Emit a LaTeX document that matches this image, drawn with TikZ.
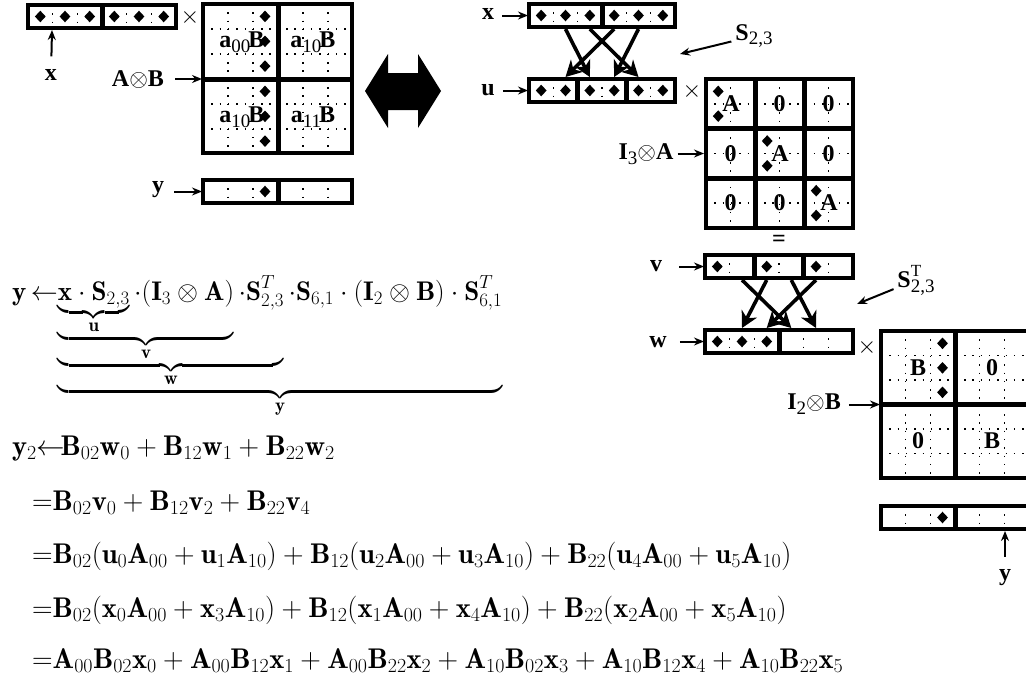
\RequirePackage{fix-cm}
\documentclass[tikz,border=0pt]{standalone}
\usepackage{amsmath}
\usepackage{fontspec}
\newfontfamily\tms{Liberation Serif}
\usetikzlibrary{arrows.meta}
\newcommand{\dmd}[2]{\fill (#1,#2) +(-5.4,0) -- +(0,-5.8) -- +(5.4,0) -- +(0,5.8) -- cycle;}
\newcommand{\lsub}[1]{\raisebox{-0.45ex}{\mdseries\fontsize{19}{20}\selectfont #1}}
\newcommand{\lsup}[1]{\raisebox{1.0ex}{\mdseries\fontsize{17}{18}\selectfont #1}}
\begin{document}
\begin{tikzpicture}[x=1pt,y=-1pt,
 lab/.style={font=\tms\bfseries\fontsize{24}{26}\selectfont, inner sep=0pt},
 tms/.style={font=\fontsize{24}{26}\selectfont, inner sep=0pt},
 dotl/.style={line width=1.5pt, dash pattern=on 1.5pt off 6.8pt},
 frame/.style={line width=3.5pt},
 divl/.style={line width=5pt},
 larr/.style={line width=2pt, -{Stealth[length=10pt,width=8pt]}},
 perm/.style={line width=3.6pt, -{Stealth[length=16pt,width=17pt,inset=5pt]}},
 eqn/.style={inner sep=0pt, anchor=base west}]
\fill[white] (0,0) rectangle (1026,675);
\useasboundingbox (0,0) rectangle (1026,675);

% ---------- top-left: x vector ----------
\foreach \x in {52.7,77.3,126.7,151.3} \draw[dotl] (\x,5) -- (\x,28);
\draw[frame] (28,5) rectangle (176,28);
\draw[divl] (102,5) -- (102,28);
\foreach \x in {40.3,65,89.7,114.3,139,163.7} {\dmd{\x}{16.5}}
\node[lab] (lx1) at (51,75) {x};
\coordinate (vx1) at (52,30);
\draw[larr, shorten <=13pt] (lx1) -- (vx1);
\node[tms] (t1) at (190,17) {$\times$};

% ---------- A (x) B ----------
\foreach \x in {228,253,303,328} \draw[dotl] (\x,4) -- (\x,153);
\foreach \y in {29,54,104,129} \draw[dotl] (203,\y) -- (352,\y);
\draw[frame] (203,4) rectangle (352,153);
\draw[divl] (278,4) -- (278,153) (203,79) -- (352,79);
\foreach \y in {16.4,41.3,66.1,91.4,116.3,141.1} {\dmd{265}{\y}}
\node[lab] (q00) at (242,42) {a\lsub{00}\kern-2pt B};
\node[lab] (q01) at (313,42) {a\lsub{10}\kern-2pt B};
\node[lab] (q10) at (242,117) {a\lsub{10}\kern-2pt B};
\node[lab] (q11) at (313,117) {a\lsub{11}\kern-2pt B};
\node[lab] (lAB) at (138,80) {A$\otimes$B};
\coordinate (mAB) at (202,79);
\draw[larr, shorten <=11pt] (lAB.east |- mAB) -- (mAB);

% ---------- y vector ----------
\foreach \x in {228,253,303,328} \draw[dotl] (\x,180) -- (\x,203);
\draw[frame] (203,180) rectangle (352,203);
\draw[divl] (278,180) -- (278,203);
\dmd{265}{191.5}
\node[lab] (ly1) at (158,190) {y};
\coordinate (vy1) at (202,191.5);
\draw[larr, shorten <=10pt] (ly1.east |- vy1) -- (vy1);

% ---------- double arrow ----------
\fill (365,91) -- (388,54) -- (388,73) -- (418,73) -- (418,54) -- (441,91)
  -- (418,128) -- (418,110) -- (388,110) -- (388,128) -- cycle;

% ---------- right: x and u ----------
\foreach \x in {553.3,577.7,626.3,650.7} \draw[dotl] (\x,4) -- (\x,27);
\draw[frame] (529,4) rectangle (675,27);
\draw[divl] (602,4) -- (602,27);
\foreach \x in {541.2,565.5,589.8,614.2,638.5,662.8} {\dmd{\x}{15.5}}
\node[lab] (lx2) at (488,14) {x};
\coordinate (vx2) at (528,15.5);
\draw[larr, shorten <=8pt] (lx2.east |- vx2) -- (vx2);

\foreach \x in {553.3,602,650.7} \draw[dotl] (\x,79) -- (\x,102);
\draw[frame] (529,79) rectangle (675,102);
\draw[divl] (577.7,79) -- (577.7,102) (626.3,79) -- (626.3,102);
\foreach \x in {541.2,565.5,589.8,614.2,638.5,662.8} {\dmd{\x}{90.5}}
\node[lab] (lu) at (488,90) {u};
\coordinate (vu) at (528,90.5);
\draw[larr, shorten <=8pt] (lu.east |- vu) -- (vu);
\node[tms] (t2) at (692,91) {$\times$};

\coordinate (xb1) at (565.5,29); \coordinate (xb2) at (589.8,29);
\coordinate (xb3) at (614.2,29); \coordinate (xb4) at (638.5,29);
\coordinate (ut1) at (565.5,77); \coordinate (ut2) at (589.8,77);
\coordinate (ut3) at (614.2,77); \coordinate (ut4) at (638.5,77);
\draw[perm] (xb1) -- (ut2);
\draw[perm] (xb3) -- (ut1);
\draw[perm] (xb2) -- (ut4);
\draw[perm] (xb4) -- (ut3);

\node[lab] (lS1) at (754,36) {S\lsub{2,3}};
\coordinate (pS1) at (680,54);
\draw[larr, shorten <=4pt] (lS1) -- (pS1);

% ---------- I3 (x) A ----------
\foreach \x in {730.5,779.5,828.5} \draw[dotl] (\x,79) -- (\x,228);
\foreach \y in {103.8,153.5,203.2} \draw[dotl] (706,\y) -- (853,\y);
\draw[frame] (706,79) rectangle (853,228);
\draw[divl] (755,79) -- (755,228) (804,79) -- (804,228) (706,128.7) -- (853,128.7) (706,178.3) -- (853,178.3);
\dmd{718.2}{91.4} \dmd{718.2}{116.1}
\dmd{767.2}{141} \dmd{767.2}{165.8}
\dmd{816.2}{190.7} \dmd{816.2}{215.5}
\node[lab] (A1) at (731,104) {A};
\node[lab] (A2) at (780,154) {A};
\node[lab] (A3) at (829,203) {A};
\node[lab] (z12) at (779.5,104) {0};
\node[lab] (z13) at (828.5,104) {0};
\node[lab] (z21) at (730.5,154) {0};
\node[lab] (z23) at (828.5,154) {0};
\node[lab] (z31) at (730.5,203) {0};
\node[lab] (z32) at (779.5,203) {0};
\node[lab] (lIA) at (646,154) {I\lsub{3}$\otimes$A};
\coordinate (mIA) at (704,153.5);
\draw[larr, shorten <=4pt] (lIA.east |- mIA) -- (mIA);
\node[lab] (eq) at (779,241) {=};

% ---------- v and w ----------
\foreach \x in {729.7,779,828.3} \draw[dotl] (\x,255) -- (\x,278);
\draw[frame] (705,255) rectangle (853,278);
\draw[divl] (754.3,255) -- (754.3,278) (803.7,255) -- (803.7,278);
\foreach \x in {717.3,766.7,816} {\dmd{\x}{266.5}}
\node[lab] (lv) at (656,266) {v};
\coordinate (vv) at (704,266.5);
\draw[larr, shorten <=17pt] (lv.east |- vv) -- (vv);

\foreach \x in {729.7,754.3,803.7,828.3} \draw[dotl] (\x,330) -- (\x,353);
\draw[frame] (705,330) rectangle (853,353);
\draw[divl] (779,330) -- (779,353);
\foreach \x in {717.3,742,766.7} {\dmd{\x}{341.5}}
\node[lab] (lw) at (658,342) {w};
\coordinate (vw) at (704,341.5);
\draw[larr, shorten <=13pt] (lw.east |- vw) -- (vw);
\node[tms] (t3) at (867,347) {$\times$};

\coordinate (vb1) at (742,280); \coordinate (vb2) at (766.7,280);
\coordinate (vb3) at (791.3,280); \coordinate (vb4) at (816,280);
\coordinate (wt1) at (742,328); \coordinate (wt2) at (766.7,328);
\coordinate (wt3) at (791.3,328); \coordinate (wt4) at (816,328);
\draw[perm] (vb1) -- (wt3);
\draw[perm] (vb2) -- (wt1);
\draw[perm] (vb3) -- (wt4);
\draw[perm] (vb4) -- (wt2);

\node[lab] (lS2) at (916,280) {S\rlap{\lsup{T}}\lsub{2,3}};
\coordinate (pS2) at (857,304);
\draw[larr, shorten <=4pt] (lS2) -- (pS2);

% ---------- I2 (x) B ----------
\foreach \x in {905.7,930.3,979.7,1004.3} \draw[dotl] (\x,331) -- (\x,478);
\foreach \y in {355.5,380,429,453.5} \draw[dotl] (881,\y) -- (1029,\y);
\draw[frame] (881,331) rectangle (1029,478);
\draw[divl] (955,331) -- (955,478) (881,404.5) -- (1029,404.5);
\dmd{942.5}{343.3} \dmd{942.5}{367.8} \dmd{942.5}{392.3}
\node[lab] (B1) at (918,368) {B};
\node[lab] (z2a) at (992,368) {0};
\node[lab] (z2b) at (918,441) {0};
\node[lab] (B2) at (992,441) {B};
\node[lab] (lIB) at (814,404) {I\lsub{2}$\otimes$B};
\coordinate (mIB) at (880,404.5);
\draw[larr, shorten <=8pt] (lIB.east |- mIB) -- (mIB);

% ---------- final y vector ----------
\foreach \x in {905.7,930.3,979.7,1004.3} \draw[dotl] (\x,506) -- (\x,529);
\draw[frame] (881,506) rectangle (1029,529);
\draw[divl] (955,506) -- (955,529);
\dmd{942.5}{517.5}
\node[lab] (ly2) at (1005,578) {y};
\coordinate (vy2) at (1005,531);
\draw[larr, shorten <=13pt] (ly2) -- (vy2);

% ---------- equations ----------
\node[eqn, font=\fontsize{27}{30}\selectfont] (e0) at (12,300)
 {$\mathbf{y}\,{\leftarrow}\!\underbrace{\underbrace{\underbrace{\underbrace{\mathbf{x}\cdot\mathbf{S}_{2,3}}_{\mathbf{u}}\cdot(\mathbf{I}_3\otimes\mathbf{A})}_{\mathbf{v}}\cdot\mathbf{S}_{2,3}^{T}}_{\mathbf{w}}\cdot\mathbf{S}_{6,1}\cdot(\mathbf{I}_2\otimes\mathbf{B})\cdot\mathbf{S}_{6,1}^{T}}_{\mathbf{y}}$};
\begin{scope}[every node/.style={eqn, font=\fontsize{28.5}{32}\selectfont}]
\node (e1) at (12,455) {$\mathbf{y}_2{\leftarrow}\!\mathbf{B}_{02}\mathbf{w}_0+\mathbf{B}_{12}\mathbf{w}_1+\mathbf{B}_{22}\mathbf{w}_2$};
\node (e2) at (32,510) {${=}\mathbf{B}_{02}\mathbf{v}_0+\mathbf{B}_{12}\mathbf{v}_2+\mathbf{B}_{22}\mathbf{v}_4$};
\node (e3) at (32,563) {${=}\mathbf{B}_{02}(\mathbf{u}_0\mathbf{A}_{00}+\mathbf{u}_1\mathbf{A}_{10})+\mathbf{B}_{12}(\mathbf{u}_2\mathbf{A}_{00}+\mathbf{u}_3\mathbf{A}_{10})+\mathbf{B}_{22}(\mathbf{u}_4\mathbf{A}_{00}+\mathbf{u}_5\mathbf{A}_{10})$};
\node (e4) at (32,617) {${=}\mathbf{B}_{02}(\mathbf{x}_0\mathbf{A}_{00}+\mathbf{x}_3\mathbf{A}_{10})+\mathbf{B}_{12}(\mathbf{x}_1\mathbf{A}_{00}+\mathbf{x}_4\mathbf{A}_{10})+\mathbf{B}_{22}(\mathbf{x}_2\mathbf{A}_{00}+\mathbf{x}_5\mathbf{A}_{10})$};
\node (e5) at (32,668) {${=}\mathbf{A}_{00}\mathbf{B}_{02}\mathbf{x}_0+\mathbf{A}_{00}\mathbf{B}_{12}\mathbf{x}_1+\mathbf{A}_{00}\mathbf{B}_{22}\mathbf{x}_2+\mathbf{A}_{10}\mathbf{B}_{02}\mathbf{x}_3+\mathbf{A}_{10}\mathbf{B}_{12}\mathbf{x}_4+\mathbf{A}_{10}\mathbf{B}_{22}\mathbf{x}_5$};
\end{scope}
\end{tikzpicture}
\end{document}
